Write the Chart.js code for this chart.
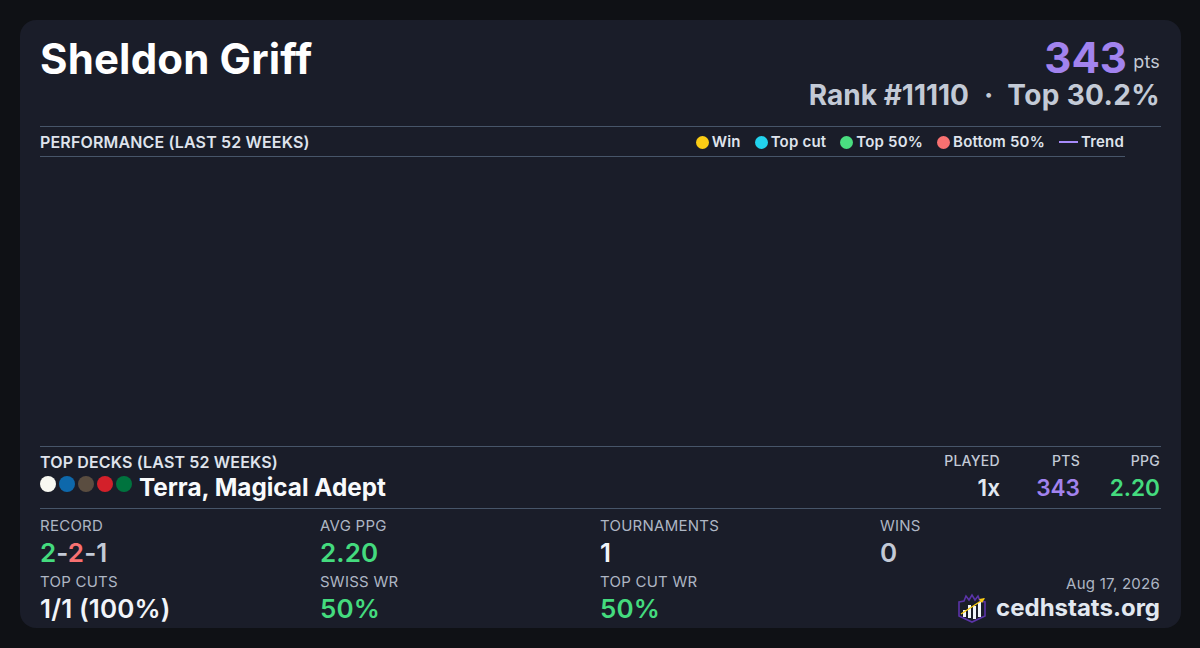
<!DOCTYPE html>
<html>
<head>
<meta charset="utf-8">
<title>Sheldon Griff</title>
<script src="https://cdn.jsdelivr.net/npm/chart.js@4/dist/chart.umd.min.js"></script>
<style>
  html, body { margin: 0; padding: 0; width: 1200px; height: 648px; overflow: hidden; background: #0f1115; font-family: Inter, sans-serif; }
  #card { position: absolute; left: 20px; top: 20px; width: 1161px; height: 608px; background: #1a1d29; border-radius: 16px; }
  .t { position: absolute; white-space: nowrap; line-height: 1; }
  .r { text-align: right; }
  .rule { position: absolute; height: 1px; background: #475569; }
  .lab { font-size: 15px; font-weight: 400; color: #aeb6c4; letter-spacing: .25px; }
  .head { font-size: 14px; font-weight: 500; letter-spacing: .3px; color: #c3cad6; }
  .val { font-size: 26px; font-weight: 600; color: #c3cad6; letter-spacing: .1px; }
  .sec { font-size: 16px; font-weight: 600; color: #dfe3ec; letter-spacing: .15px; }
  .cell { font-size: 22.6px; font-weight: 600; }
  .rank { font-size: 28px; font-weight: 700; top: 81px; }
  .green { color: #44db7e; } .red { color: #f87171; } .purple { color: #a283ee; } .white { color: #f1f4f9; } .grey { color: #c3cad6; }
  .pip { position: absolute; top: 476px; width: 16px; height: 16px; border-radius: 50%; }
  #chartBox { position: absolute; left: 40px; top: 157px; width: 1085px; height: 289px; }
  #legend { position: absolute; right: 76px; top: 134px; display: flex; gap: 14px; font-size: 15px; font-weight: 600; color: #dfe3ec; line-height: 16px; letter-spacing: .2px; }
  #legend span.item { display: flex; align-items: center; gap: 3px; }
  #legend i.dot { display: block; width: 13px; height: 13px; border-radius: 50%; }
  #legend i.line { display: block; width: 19px; height: 2px; }
</style>
</head>
<body>
<div id="card"></div>

<div class="t" style="left:40px;top:38px;font-size:42px;font-weight:700;color:#fff;letter-spacing:.15px">Sheldon Griff</div>
<div class="t purple" style="right:73px;top:37px;font-size:42px;font-weight:700">343</div>
<div class="t" style="right:40px;top:53px;font-size:18px;color:#c3cad6;letter-spacing:.2px">pts</div>
<div class="t grey rank" style="right:231px">Rank #11110</div>
<div class="t grey rank" style="left:984px">·</div>
<div class="t grey rank" style="right:40px;letter-spacing:.35px">Top 30.2%</div>

<div class="rule" style="left:40px;top:126px;width:1121px"></div>
<div class="t sec" style="left:40px;top:134px">PERFORMANCE (LAST 52 WEEKS)</div>
<div id="legend"></div>
<div class="rule" style="left:40px;top:156px;width:1085px"></div>

<div id="chartBox"><canvas id="perf"></canvas></div>

<div class="rule" style="left:40px;top:446px;width:1121px"></div>
<div class="t sec" style="left:40px;top:454px">TOP DECKS (LAST 52 WEEKS)</div>
<div class="pip" style="left:40px;background:#f8f8f2"></div>
<div class="pip" style="left:59px;background:#0e68ab"></div>
<div class="pip" style="left:78px;background:#5a4d40"></div>
<div class="pip" style="left:97px;background:#d3202a"></div>
<div class="pip" style="left:116px;background:#00733e"></div>
<div class="t" style="left:139px;top:475px;font-size:24.3px;font-weight:700;color:#f8fafc">Terra, Magical Adept</div>
<div class="t head r" style="right:200px;top:454px">PLAYED</div>
<div class="t head r" style="right:120px;top:454px">PTS</div>
<div class="t head r" style="right:40px;top:454px">PPG</div>
<div class="t r cell" style="right:200px;top:477px;color:#e2e8f0">1x</div>
<div class="t r cell purple" style="right:120px;top:477px">343</div>
<div class="t r cell green" style="right:40px;top:477px">2.20</div>
<div class="rule" style="left:40px;top:508px;width:1121px"></div>

<div class="t lab" style="left:40px;top:518px">RECORD</div>
<div class="t val grey" style="left:40px;top:540px"><span class="green">2</span>-<span class="red">2</span>-1</div>
<div class="t lab" style="left:320px;top:518px">AVG PPG</div>
<div class="t val green" style="left:320px;top:540px">2.20</div>
<div class="t lab" style="left:600px;top:518px">TOURNAMENTS</div>
<div class="t val white" style="left:600px;top:540px">1</div>
<div class="t lab" style="left:880px;top:518px">WINS</div>
<div class="t val grey" style="left:880px;top:540px">0</div>

<div class="t lab" style="left:40px;top:574px">TOP CUTS</div>
<div class="t val white" style="left:40px;top:596px;letter-spacing:.15px">1/1 (100%)</div>
<div class="t lab" style="left:320px;top:574px">SWISS WR</div>
<div class="t val green" style="left:320px;top:596px">50%</div>
<div class="t lab" style="left:600px;top:574px">TOP CUT WR</div>
<div class="t val green" style="left:600px;top:596px">50%</div>
<div class="t lab r" style="right:40px;top:576px;font-size:15px">Aug 17, 2026</div>
<div class="t" style="right:40px;top:596px;font-size:24px;font-weight:700;color:#e2e8f0">cedhstats.org</div>

<svg style="position:absolute;left:957px;top:593px" width="30" height="30" viewBox="0 0 30 30">
  <path d="M2 9 L7 8 L9 3 L12 7 L15 2 L18 7 L21 3 L23 8 L28 9 L28 23 L15 29 L2 23 Z" fill="none" stroke="#5b34a8" stroke-width="1.6"/>
  <rect x="6" y="17" width="3" height="7" fill="#f1f5f9"/>
  <rect x="11" y="12" width="3" height="13" fill="#f1f5f9"/>
  <rect x="16" y="13" width="3" height="13" fill="#f1f5f9"/>
  <rect x="21" y="9" width="3" height="15" fill="#f1f5f9"/>
  <path d="M4 21 L27 6" stroke="#facc15" stroke-width="1.4"/>
  <path d="M28 5 L22 6 L25 10 Z" fill="#facc15"/>
</svg>

<script>
// performance series - this player has nothing plotted in the window
const weeks = []
const winPoints = []
const topCutPoints = []
const top50Points = []
const bottom50Points = []
const trendLine = []

const seriesNames = ['Win', 'Top cut', 'Top 50%', 'Bottom 50%', 'Trend']
const seriesColors = ['#facc15', '#22d3ee', '#4ade80', '#f87171', '#a78bfa']

// legend built from the chart's own datasets
const htmlLegend = {
  id: 'htmlLegend',
  afterUpdate (chart) {
    const box = document.getElementById('legend')
    box.innerHTML = ''
    chart.data.datasets.forEach(ds => {
      const item = document.createElement('span')
      item.className = 'item'
      const mark = document.createElement('i')
      mark.className = ds.type === 'line' ? 'line' : 'dot'
      mark.style.background = ds.borderColor
      item.appendChild(mark)
      item.appendChild(document.createTextNode(ds.label))
      box.appendChild(item)
    })
  }
}

const pointSet = (i, data) => ({
  type: 'scatter',
  label: seriesNames[i],
  data: data,
  backgroundColor: seriesColors[i],
  borderColor: seriesColors[i],
  pointRadius: 6
})

new Chart(document.getElementById('perf'), {
  data: {
    labels: weeks,
    datasets: [
      pointSet(0, winPoints),
      pointSet(1, topCutPoints),
      pointSet(2, top50Points),
      pointSet(3, bottom50Points),
      {
        type: 'line',
        label: seriesNames[4],
        data: trendLine,
        borderColor: seriesColors[4],
        borderWidth: 2,
        pointRadius: 0
      }
    ]
  },
  options: {
    responsive: true,
    maintainAspectRatio: false,
    animation: false,
    plugins: { legend: { display: false }, tooltip: { enabled: false } },
    scales: {
      x: { display: false },
      y: { display: false }
    }
  },
  plugins: [htmlLegend]
})
</script>
</body>
</html>
